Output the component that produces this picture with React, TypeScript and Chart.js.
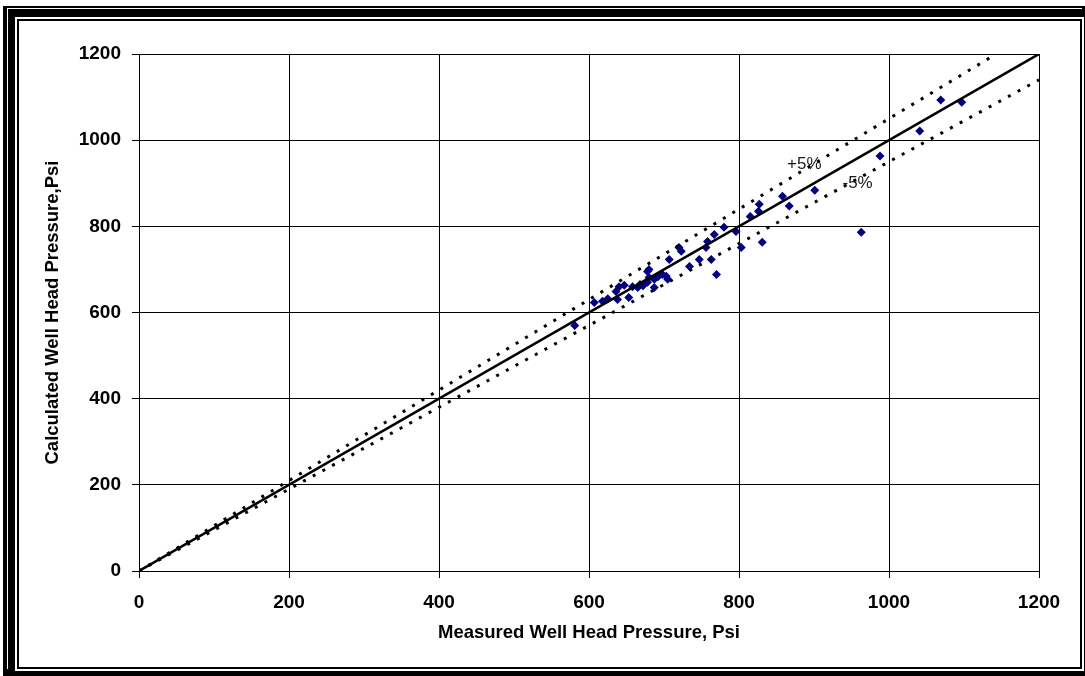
import React, { useEffect, useRef } from "react";
import { Chart, registerables } from "chart.js";

Chart.register(...registerables);

const measured = [581, 607, 618, 625, 636, 638, 640, 647, 653, 658, 665, 668, 672, 678, 678, 680, 680, 687, 687, 692, 698, 703, 705, 707, 720, 723, 734, 747, 756, 758, 763, 767, 770, 780, 796, 803, 815, 826, 827, 831, 858, 867, 901, 963, 988, 1041, 1069, 1097];
const calculated = [570, 623, 626, 632, 649, 630, 660, 663, 635, 660, 658, 665, 662, 670, 695, 700, 681, 677, 658, 683, 688, 684, 677, 723, 751, 742, 707, 723, 751, 765, 723, 781, 688, 798, 788, 751, 823, 835, 851, 763, 870, 847, 884, 786, 963, 1021, 1093, 1088];

const axisTicks = [0, 200, 400, 600, 800, 1000, 1200];
const refX = [0, 1200];
const bandFactors = [1.05, 0.95];
const bandLabels = ["+5%", "-5%"];
const bandLabelPos = [
  [864, 944],
  [938, 900],
];

const FONT = "'Liberation Sans', Arial, sans-serif";

const labelPlugin = {
  id: "bandLabels",
  afterDatasetsDraw(chart: any) {
    const { ctx, scales } = chart;
    ctx.save();
    ctx.font = `17px ${FONT}`;
    ctx.fillStyle = "#1a1a1a";
    ctx.textAlign = "left";
    ctx.textBaseline = "middle";
    bandLabels.forEach((t, i) => {
      const x = scales.x.getPixelForValue(bandLabelPos[i][0]);
      const y = scales.y.getPixelForValue(bandLabelPos[i][1]);
      ctx.fillText(t, x, y);
    });
    ctx.restore();
  },
};

export default function App() {
  const ref = useRef<HTMLCanvasElement | null>(null);

  useEffect(() => {
    if (!ref.current) return;
    const maxV = axisTicks[axisTicks.length - 1];
    const bandData = (f: number) => {
      const xEnd = Math.min(maxV, maxV / f);
      return [
        { x: refX[0], y: refX[0] * f },
        { x: xEnd, y: xEnd * f },
      ];
    };
    const tickFont = { family: FONT, size: 19, weight: "bold" };
    const chart = new Chart(ref.current, {
      type: "scatter",
      data: {
        datasets: [
          {
            type: "line",
            label: "1:1",
            data: refX.map((v) => ({ x: v, y: v })),
            borderColor: "#000",
            borderWidth: 2.5,
            pointRadius: 0,
            showLine: true,
            fill: false,
          },
          ...bandFactors.map((f, i) => ({
            type: "line" as const,
            label: bandLabels[i],
            data: bandData(f),
            borderColor: "#000",
            borderWidth: 3,
            borderDash: [3, 8],
            borderCapStyle: "butt" as const,
            pointRadius: 0,
            showLine: true,
            fill: false,
          })),
          {
            type: "scatter",
            label: "Data",
            data: measured.map((m, i) => ({ x: m, y: calculated[i] })),
            backgroundColor: "#000080",
            borderColor: "#000080",
            pointStyle: "rectRot",
            pointRadius: 4.5,
            borderWidth: 0,
          },
        ],
      },
      options: {
        responsive: false,
        animation: false,
        layout: { padding: { left: 0, top: 54, right: 46, bottom: 0 } },
        plugins: { legend: { display: false }, tooltip: { enabled: false } },
        scales: {
          x: {
            type: "linear",
            min: 0,
            max: 1200,
            afterBuildTicks: (s: any) => {
              s.ticks = axisTicks.map((v) => ({ value: v }));
            },
            afterFit: (s: any) => {
              s.height = 105;
            },
            grid: { color: "#000", lineWidth: 1, tickLength: 7, tickColor: "#000" },
            border: { color: "#000", width: 1 },
            ticks: {
              color: "#000",
              font: tickFont,
              padding: 13,
              maxRotation: 0,
              callback: (v: any) => String(v),
            },
            title: {
              display: true,
              text: "Measured Well Head Pressure, Psi",
              color: "#000",
              font: { family: FONT, size: 18.5, weight: "bold" },
              padding: { top: 0, bottom: 32 },
            },
          },
          y: {
            type: "linear",
            min: 0,
            max: 1200,
            afterBuildTicks: (s: any) => {
              s.ticks = axisTicks.map((v) => ({ value: v }));
            },
            afterFit: (s: any) => {
              s.width = 139;
            },
            grid: { color: "#000", lineWidth: 1, tickLength: 7, tickColor: "#000" },
            border: { color: "#000", width: 1 },
            ticks: {
              color: "#000",
              font: tickFont,
              padding: 11,
              callback: (v: any) => String(v),
            },
            title: {
              display: true,
              text: "Calculated Well Head Pressure,Psi",
              color: "#000",
              font: { family: FONT, size: 18.5, weight: "bold" },
              padding: { top: 42, bottom: 0 },
            },
          },
        },
      },
      plugins: [labelPlugin],
    } as any);
    return () => chart.destroy();
  }, []);

  return (
    <div style={{ position: "fixed", left: 0, top: 0, width: 1085, height: 676, background: "#fff", overflow: "hidden" }}>
      <div style={{ position: "absolute", left: 3, top: 6, width: 1082, height: 670, background: "#000" }} />
      <div style={{ position: "absolute", left: 7, top: 8, width: 1074, height: 660, borderLeft: "1px solid #fff", borderTop: "1px solid #fff" }} />
      <div style={{ position: "absolute", left: 15, top: 17, width: 1069, height: 654, background: "#fff" }} />
      <div style={{ position: "absolute", left: 17, top: 19, width: 1065, height: 650, border: "2px solid #000", boxSizing: "border-box" }} />
      <canvas ref={ref} width={1085} height={676} style={{ position: "absolute", left: 0, top: 0, width: 1085, height: 676 }} />
    </div>
  );
}
